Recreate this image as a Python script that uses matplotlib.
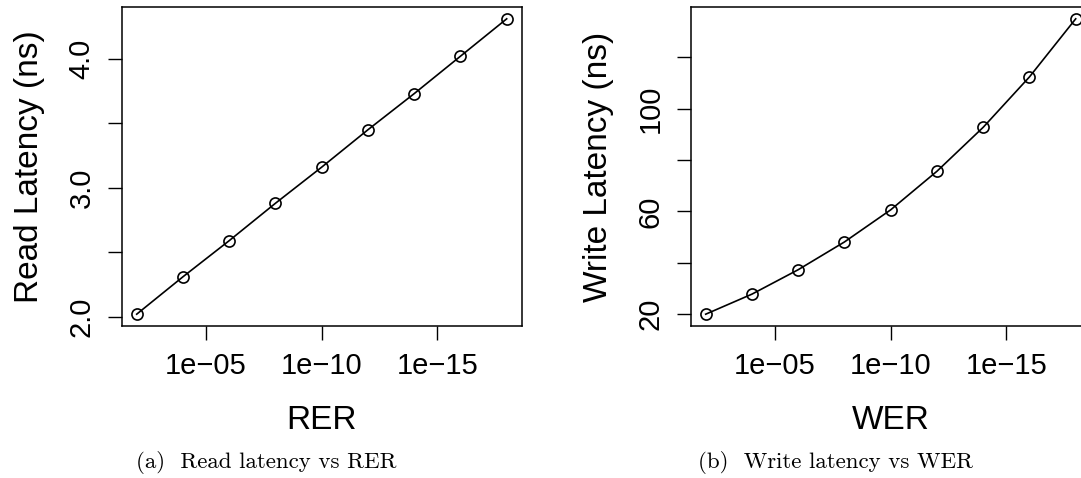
import numpy as np
import matplotlib
matplotlib.use("Agg")
import matplotlib.pyplot as plt

# error rates 1e-2 ... 1e-18
error_rate = [1e-2, 1e-4, 1e-6, 1e-8, 1e-10, 1e-12, 1e-14, 1e-16, 1e-18]
read_latency = [2.02, 2.31, 2.59, 2.88, 3.16, 3.45, 3.73, 4.02, 4.31]
write_latency = [20.0, 27.8, 37.3, 48.1, 60.6, 75.6, 92.7, 112.3, 134.9]

x_ticks = [1e-5, 1e-10, 1e-15]
x_ticklabels = ["1e\u221205", "1e\u221210", "1e\u221215"]
read_yticks = [2.0, 2.5, 3.0, 3.5, 4.0]
read_yticklabels = ["2.0", "", "3.0", "", "4.0"]
write_yticks = [20, 40, 60, 80, 100, 120]
write_yticklabels = ["20", "", "60", "", "100", ""]

plt.rcParams['font.family'] = ['Liberation Sans', 'DejaVu Sans']

W, H = 1081, 478
fig = plt.figure(figsize=(W / 100, H / 100), dpi=100)


def make_panel(left_px, y, ylabel, xlabel, yticks, yticklabels):
    ax = fig.add_axes([left_px / W, (H - 326) / H, 399.6 / W, 319 / H])
    ax.plot(error_rate, y, color='black', lw=1.2, marker='o', ms=8,
            mfc='none', mec='black', mew=1.2)
    ax.set_xscale('log')
    lo, hi = 2 - 0.64, 18 + 0.64
    ax.set_xlim(10 ** -lo, 10 ** -hi)
    ax.minorticks_off()
    ax.set_xticks(x_ticks)
    ax.set_xticklabels(x_ticklabels)
    rng = max(y) - min(y)
    ax.set_ylim(min(y) - 0.04 * rng, max(y) + 0.04 * rng)
    ax.set_yticks(yticks)
    ax.set_yticklabels(yticklabels)
    ax.tick_params(axis='both', direction='out', length=10, width=1.0,
                   labelsize=21, pad=9)
    ax.tick_params(axis='y', labelrotation=90)
    for lab in ax.get_yticklabels():
        lab.set_va('center')
    for sp in ax.spines.values():
        sp.set_linewidth(1.1)
    ax.set_xlabel(xlabel, fontsize=24, labelpad=18)
    ax.set_ylabel(ylabel, fontsize=24, labelpad=16)
    return ax


make_panel(121.9, read_latency, "Read Latency (ns)", "RER",
           read_yticks, read_yticklabels)
make_panel(690.9, write_latency, "Write Latency (ns)", "WER",
           write_yticks, write_yticklabels)

fig.text(266 / W, 1 - 462 / H, "(a)  Read latency vs RER", fontsize=16.5,
         family='cmr10', ha='center', va='center')
fig.text(836 / W, 1 - 462 / H, "(b)  Write latency vs WER", fontsize=16.5,
         family='cmr10', ha='center', va='center')

fig.savefig("out.png", dpi=100)
